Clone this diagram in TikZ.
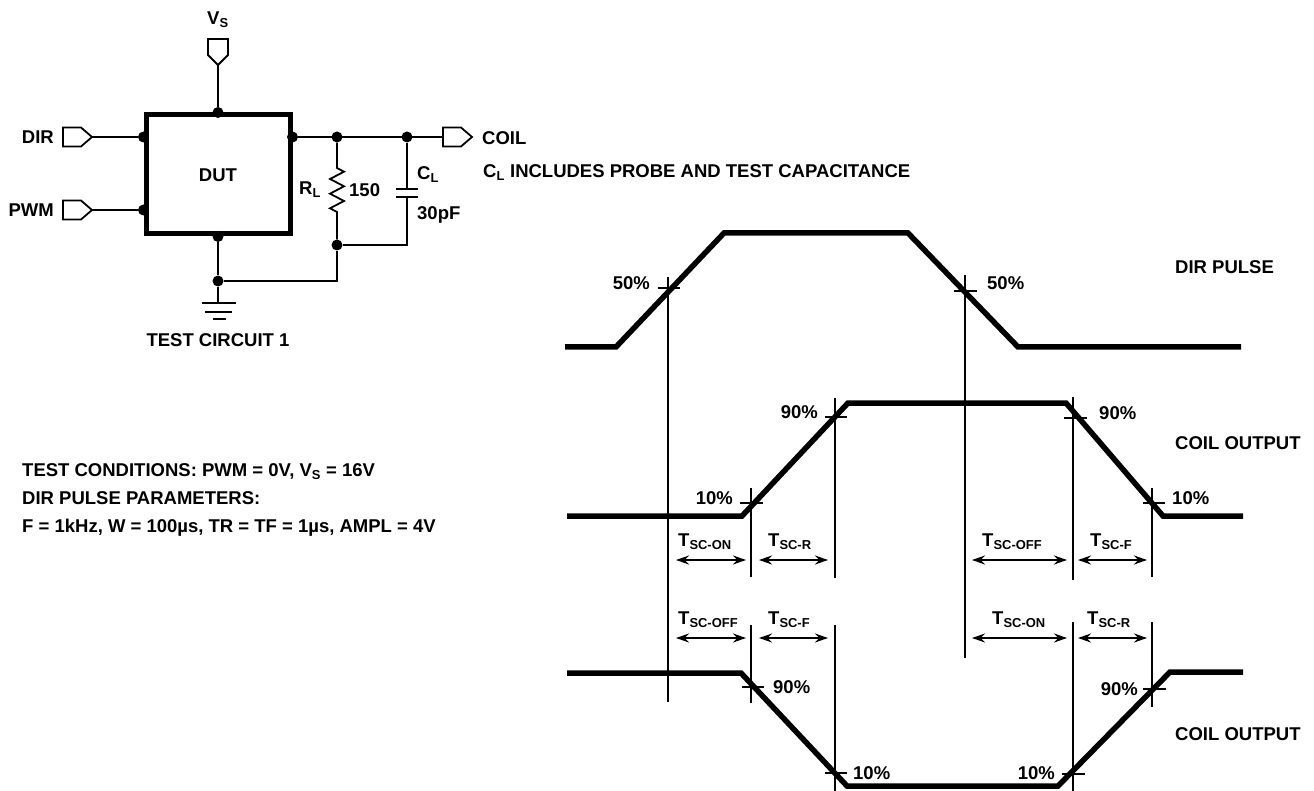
\documentclass[tikz,border=0pt]{standalone}
\usepackage{fontspec}
\setmainfont{Liberation Sans}
\usetikzlibrary{arrows.meta}

\tikzset{
  pinr/.pic={
    \draw[line width=1.8pt] (0,-9.5) -- (18,-9.5) -- (29,0) -- (18,9.5) -- (0,9.5) -- cycle;
    \coordinate (-in) at (0,0);
    \coordinate (-tip) at (29,0);
  },
  pind/.pic={
    \draw[line width=1.8pt] (-10,0) -- (10,0) -- (10,-16) -- (0,-26) -- (-10,-16) -- cycle;
    \coordinate (-tip) at (0,-26);
  }
}

\begin{document}
\begin{tikzpicture}[x=1pt,y=1pt,yscale=-1,
    wire/.style={line width=1.8pt},
    sig/.style={line width=5.5pt},
    thin/.style={line width=1.1pt},
    dim/.style={{Stealth[length=13pt,width=9pt]}-{Stealth[length=13pt,width=9pt]}, line width=1.8pt},
    dot/.style={circle, fill, inner sep=0pt, minimum size=11pt},
    lbl/.style={font=\bfseries\fontsize{18.5}{22}\selectfont, inner sep=0pt, text height=13.2pt, text depth=0pt}]
    \useasboundingbox (0,0) rectangle (1314,791);

    % test circuit
    \node[draw, line width=5pt, minimum width=144pt, minimum height=119pt, inner sep=0pt, lbl] (dut) at (218,174.5) {DUT};
    \pic (vs) at (218,39) {pind};
    \pic (dir) at (63,137) {pinr};
    \pic (pwm) at (63,210) {pinr};
    \pic (coil) at (443,137) {pinr};

    \node[dot] (ntop) at (dut.north) {};
    \node[dot] (nbot) at (dut.south) {};
    \node[dot] (ndir) at (dut.west |- dir-tip) {};
    \node[dot] (npwm) at (dut.west |- pwm-tip) {};
    \node[dot] (nout) at (dut.east |- dir-tip) {};
    \node[dot] (nr) at (337,137) {};
    \node[dot] (nc) at (407,137) {};
    \node[dot] (nrb) at (337,245) {};
    \node[dot] (ngnd) at (218,281) {};
    \coordinate (cbot) at (407,245);

    \draw[wire] (vs-tip) -- (ntop);
    \draw[wire] (dir-tip) -- (ndir);
    \draw[wire] (pwm-tip) -- (npwm);
    \draw[wire] (nout) -- (coil-in);
    % load resistor
    \draw[wire] (nr) -- (337,168) -- ++(7,3.7) -- ++(-14,7.3) -- ++(14,7.3) -- ++(-14,7.4) -- ++(14,7.3) -- ++(-14,7.3) -- ++(7,3.7) -- (nrb);
    % load capacitor
    \draw[wire] (nc) -- (407,189);
    \draw[line width=2.8pt] (396,189) -- (418,189);
    \draw[line width=2.8pt] (396,197) -- (418,197);
    \draw[wire] (407,197) -- (cbot) -- (nrb);
    % ground
    \draw[wire] (nbot) -- (ngnd) -- (ngnd -| nrb) -- (nrb);
    \draw[wire] (ngnd) -- ++(0,22) coordinate (gtop);
    \draw[line width=2.2pt] (gtop) ++(-16,0) -- ++(34,0);
    \draw[line width=2.2pt] (gtop) ++(-13,9) -- ++(27,0);
    \draw[line width=2.2pt] (gtop) ++(-5,16) -- ++(13,0);

    \node[lbl, anchor=west] (lvs) at (207,18) {V\textsubscript{S}};
    \node[lbl, anchor=east] (ldir) at (54,137) {DIR};
    \node[lbl, anchor=east] (lpwm) at (54,210) {PWM};
    \node[lbl, anchor=west] (lrl) at (299,188) {R\textsubscript{L}};
    \node[lbl, anchor=west] (lr) at (349,190) {150};
    \node[lbl, anchor=west] (lcl) at (417,173) {C\textsubscript{L}};
    \node[lbl, anchor=west] (lc) at (417,213) {30pF};
    \node[lbl, anchor=west] (lcoil) at (482,138) {COIL};
    \node[lbl, anchor=west] (lnote) at (483,171) {C\textsubscript{L} INCLUDES PROBE AND TEST CAPACITANCE};
    \node[lbl] (ltitle) at (218,340) {TEST CIRCUIT 1};

    \node[lbl, anchor=west] (lcond) at (22,470) {TEST CONDITIONS: PWM = 0V, V\textsubscript{S} = 16V};
    \node[lbl, anchor=west] (lpar) at (22,498) {DIR PULSE PARAMETERS:};
    \node[lbl, anchor=west] (lval) at (22,526) {F = 1kHz, W = 100µs, TR = TF = 1µs, AMPL = 4V};

    % waveforms
    \draw[sig] (565,347) -- (616,347) -- (724,233) -- (908,233) -- (1018,347) -- (1241,347);
    \draw[sig] (567,516) -- (742,516) -- (848,403) -- (1066,403) -- (1163,516) -- (1243,516);
    \draw[sig] (567,673) -- (741,673) -- (847,786) -- (1058,786) -- (1170,672) -- (1243,672);

    % timing marks
    \draw[thin] (668,277) -- (668,702);
    \draw[thin] (965,275) -- (965,658);
    \draw[thin] (751,488) -- (751,577);
    \draw[thin] (751,625) -- (751,703);
    \draw[thin] (835,398) -- (835,578);
    \draw[thin] (835,625) -- (835,791);
    \draw[thin] (1073,397) -- (1073,580);
    \draw[thin] (1073,622) -- (1073,791);
    \draw[thin] (1152,488) -- (1152,577);
    \draw[thin] (1152,622) -- (1152,707);

    \draw[thin] (658,288) -- (680,288);
    \draw[thin] (954,291) -- (977,291);
    \draw[thin] (740,503) -- (763,503);
    \draw[thin] (825,417) -- (847,417);
    \draw[thin] (1064,418) -- (1087,418);
    \draw[thin] (1143,503) -- (1165,503);
    \draw[thin] (742,687) -- (764,687);
    \draw[thin] (825,773) -- (847,773);
    \draw[thin] (1062,774) -- (1085,774);
    \draw[thin] (1143,689) -- (1166,689);

    \draw[dim] (676,560) -- (746,560);
    \draw[dim] (759,560) -- (828,560);
    \draw[dim] (972,560) -- (1067,560);
    \draw[dim] (1078,560) -- (1147,560);
    \draw[dim] (676,638) -- (746,638);
    \draw[dim] (759,638) -- (828,638);
    \draw[dim] (972,638) -- (1067,638);
    \draw[dim] (1078,638) -- (1147,638);

    \node[lbl, anchor=east] (p50a) at (650,283) {50\%};
    \node[lbl, anchor=west] (p50b) at (987,283) {50\%};
    \node[lbl, anchor=west] (ldirp) at (1175,267) {DIR PULSE};
    \node[lbl, anchor=east] (p90a) at (818,412) {90\%};
    \node[lbl, anchor=east] (p10a) at (733,498) {10\%};
    \node[lbl, anchor=west] (p90b) at (1099,413) {90\%};
    \node[lbl, anchor=west] (p10b) at (1172,498) {10\%};
    \node[lbl, anchor=west] (lout1) at (1175,443) {COIL OUTPUT};
    \node[lbl, anchor=west] (p90c) at (773,687) {90\%};
    \node[lbl, anchor=west] (p10c) at (853,773) {10\%};
    \node[lbl, anchor=east] (p10d) at (1055,773) {10\%};
    \node[lbl, anchor=east] (p90d) at (1138,689) {90\%};
    \node[lbl, anchor=west] (lout2) at (1175,734) {COIL OUTPUT};

    \node[lbl, anchor=west] (ton1) at (678,540) {T\textsubscript{SC-ON}};
    \node[lbl, anchor=west] (tr1) at (768,540) {T\textsubscript{SC-R}};
    \node[lbl, anchor=west] (toff1) at (982,540) {T\textsubscript{SC-OFF}};
    \node[lbl, anchor=west] (tf1) at (1090,540) {T\textsubscript{SC-F}};
    \node[lbl, anchor=west] (toff2) at (678,618) {T\textsubscript{SC-OFF}};
    \node[lbl, anchor=west] (tf2) at (768,618) {T\textsubscript{SC-F}};
    \node[lbl, anchor=west] (ton2) at (992,618) {T\textsubscript{SC-ON}};
    \node[lbl, anchor=west] (tr2) at (1087,618) {T\textsubscript{SC-R}};
\end{tikzpicture}
\end{document}
